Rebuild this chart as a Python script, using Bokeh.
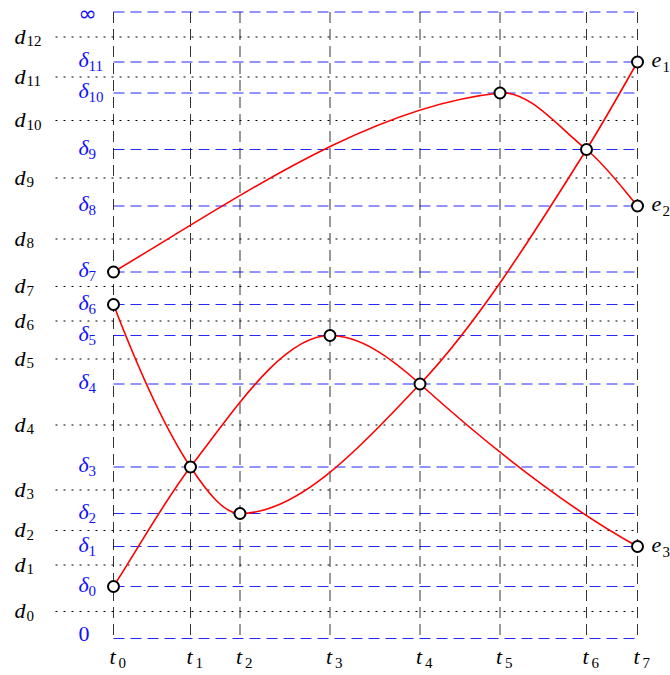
import numpy as np
from bokeh.plotting import figure
from bokeh.models import Range1d
from bokeh.embed import file_html
from bokeh.resources import INLINE
from bokeh.core.properties import value

# ---------------- data ----------------
t_pos = [0.0, 1.54, 2.53, 4.33, 6.13, 7.73, 9.46, 10.48]          # t0..t7
t_subs = ["0", "1", "2", "3", "4", "5", "6", "7"]
delta_pos = [1.04, 1.84, 2.50, 3.43, 5.09, 6.06, 6.68, 7.33,
             8.65, 9.78, 10.91, 11.53]                              # δ0..δ11
delta_subs = [str(i) for i in range(12)]
d_pos = [0.54, 1.47, 2.16, 2.97, 4.27, 5.59, 6.35, 7.04, 7.99,
         9.21, 10.36, 11.23, 12.03]                                 # d0..d12
d_subs = [str(i) for i in range(13)]
inf_level = 12.53
zero_level = 0.0

# curves: node (t index, δ index) and tangent slope at each node
curve_e1_t = [0, 1, 2, 4, 6, 7]
curve_e1_delta = [6, 3, 2, 4, 9, 11]
curve_e1_slope = [-2.6, -1.5, 0.0, 1.05, 1.6, 1.75]

curve_e2_t = [0, 5, 6, 7]
curve_e2_delta = [7, 10, 9, 8]
curve_e2_slope = [0.6, 0.1, -0.8, -1.2]

curve_e3_t = [0, 1, 3, 4, 7]
curve_e3_delta = [0, 3, 5, 4, 1]
curve_e3_slope = [1.55, 1.3, 0.0, -0.9, -0.55]

end_names = ["e", "e", "e"]
end_subs = ["1", "2", "3"]
end_delta = [11, 8, 1]

# ---------------- layout ----------------
PX = 50.0                       # screen pixels per data unit
W, H = 670, 675
x_start = -113.0 / PX
y_end = 638.0 / PX
x_range = Range1d(x_start, x_start + W / PX)
y_range = Range1d(y_end - H / PX, y_end)

p = figure(width=W, height=H, x_range=x_range, y_range=y_range,
           output_backend="svg", toolbar_location=None,
           min_border=0, min_border_left=0, min_border_right=0,
           min_border_top=0, min_border_bottom=0)
p.axis.visible = False
p.grid.visible = False
p.outline_line_color = None
p.background_fill_color = "white"
p.border_fill_color = "white"

t0, t7 = t_pos[0], t_pos[-1]

def px(v):
    return v / PX

# dotted black lines d_i
p.segment(x0=[t0 - px(58)] * len(d_pos), y0=d_pos,
          x1=[t7 - px(2)] * len(d_pos), y1=d_pos,
          line_color="black", line_width=1.1, line_dash="2 6")

# dashed blue lines δ_i plus 0 and ∞
blue_levels = [zero_level] + delta_pos + [inf_level]
p.segment(x0=[t0] * len(blue_levels), y0=blue_levels,
          x1=[t7] * len(blue_levels), y1=blue_levels,
          line_color="#0000ff", line_width=1, line_alpha=0.85, line_dash="11 6")

# dashed vertical lines t_i
p.segment(x0=t_pos, y0=[inf_level] * len(t_pos),
          x1=t_pos, y1=[zero_level] * len(t_pos),
          line_color="black", line_width=1, line_alpha=0.8, line_dash="11 6")

# red curves (cubic Hermite segments drawn as Bézier glyphs)
nodes = set()
for ti, di, sl in [(curve_e1_t, curve_e1_delta, curve_e1_slope),
                   (curve_e2_t, curve_e2_delta, curve_e2_slope),
                   (curve_e3_t, curve_e3_delta, curve_e3_slope)]:
    xs = np.array([t_pos[i] for i in ti])
    ys = np.array([delta_pos[i] for i in di])
    m = np.array(sl)
    h = np.diff(xs)
    p.bezier(x0=xs[:-1], y0=ys[:-1], x1=xs[1:], y1=ys[1:],
             cx0=xs[:-1] + h / 3, cy0=ys[:-1] + m[:-1] * h / 3,
             cx1=xs[1:] - h / 3, cy1=ys[1:] - m[1:] * h / 3,
             line_color="red", line_width=1.6)
    for a, b in zip(ti, di):
        nodes.add((a, b))

nodes = sorted(nodes)
p.scatter(x=[t_pos[a] for a, b in nodes], y=[delta_pos[b] for a, b in nodes],
          marker="circle", size=11, fill_color="white",
          line_color="black", line_width=2)

MAIN = value("Liberation Serif")
main_size = "22px"
sub_size = "15px"

def label(xs, ys, main, subs, color, main_dx, sub_dx, main_dy, sub_dy):
    # dx/dy in screen pixels (dy positive = downwards), glyph centred vertically
    p.text(x=[x + px(main_dx) for x in xs], y=[y - px(main_dy) for y in ys],
           text=main, text_font=MAIN, text_font_style="italic",
           text_font_size=main_size, text_color=color,
           text_align="left", text_baseline="middle")
    p.text(x=[x + px(sub_dx) for x in xs], y=[y - px(sub_dy) for y in ys],
           text=subs, text_font=MAIN, text_font_style="normal",
           text_font_size=sub_size, text_color=color,
           text_align="left", text_baseline="middle")

# d labels (left)
label([t0] * len(d_pos), d_pos, ["d"] * len(d_pos), d_subs, "black",
      -99, -87, -1, 4)
# δ labels
label([t0] * len(delta_pos), delta_pos, ["δ"] * len(delta_pos), delta_subs,
      "#1010ff", -35, -25, -2.5, 4)
# 0 and ∞
p.text(x=[t0 + px(-35)], y=[zero_level + px(5)], text=["0"], text_font=MAIN,
       text_font_size=main_size, text_color="#1010ff",
       text_align="left", text_baseline="middle")
p.text(x=[t0 + px(-35)], y=[inf_level - px(1)], text=["∞"],
       text_font=value("DejaVu Sans"),
       text_font_size="22px", text_color="#1010ff",
       text_align="left", text_baseline="middle")
# t labels (bottom)
label(t_pos, [zero_level] * len(t_pos), ["t"] * len(t_pos), t_subs,
      "black", -4, 5, 18, 24)
# e labels (right)
label([t7] * 3, [delta_pos[i] for i in end_delta], end_names, end_subs,
      "black", 14, 25, -2, 5)

open("out.html", "w").write(file_html(p, INLINE))
